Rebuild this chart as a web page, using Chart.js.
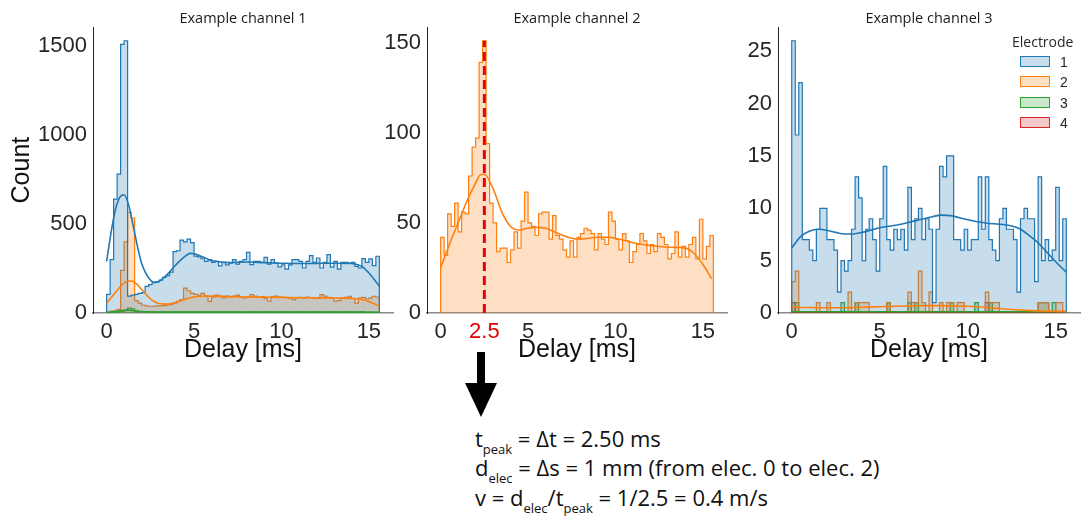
<!DOCTYPE html>
<html>
<head>
<meta charset="utf-8">
<script src="https://cdn.jsdelivr.net/npm/chart.js@4.4.1/dist/chart.umd.min.js"></script>
<style>
  body { margin: 0; background: #fff; }
  #fig { position: relative; width: 1083px; height: 516px; overflow: hidden; background: #fff; }
  #fig canvas { position: absolute; top: 0; }
  .leg { position: absolute; font-family: "Open Sans", sans-serif; color: #262626; white-space: nowrap; }
  .legbox { position: absolute; left: 1020px; width: 28px; height: 9px; border: 1.5px solid; }
  .leglab { position: absolute; left: 1060px; font-family: "Liberation Sans", Arial, sans-serif; font-size: 14px; line-height: 14px; color: #262626; }
  .eq { position: absolute; left: 475px; font-family: "Open Sans", sans-serif; font-size: 22px; line-height: 22px; color: #111; white-space: nowrap; }
  .eq sub { font-size: 13px; vertical-align: -7px; line-height: 0; }
</style>
</head>
<body>
<div id="fig">
  <canvas id="ch1" width="400" height="370" style="left:0px"></canvas>
  <canvas id="ch2" width="370" height="370" style="left:360px"></canvas>
  <canvas id="ch3" width="363" height="370" style="left:720px"></canvas>

  <!-- legend of channel 3 -->
  <div class="leg" style="left:1012px; top:33px; font-size:14px; line-height:18px;">Electrode</div>
  <div class="legbox" style="top:56px; border-color:#1f77b4; background:rgba(31,119,180,0.25)"></div>
  <div class="legbox" style="top:76px; border-color:#ff7f0e; background:rgba(255,127,14,0.25)"></div>
  <div class="legbox" style="top:97px; border-color:#2ca02c; background:rgba(44,160,44,0.25)"></div>
  <div class="legbox" style="top:117px; border-color:#d62728; background:rgba(214,39,40,0.25)"></div>
  <div class="leglab" style="top:55px">1</div>
  <div class="leglab" style="top:75px">2</div>
  <div class="leglab" style="top:96px">3</div>
  <div class="leglab" style="top:116px">4</div>

  <!-- arrow -->
  <svg style="position:absolute; left:465px; top:350px" width="32" height="70">
    <rect x="12" y="2" width="8" height="34" fill="#000"></rect>
    <polygon points="0,33 32,33 16,67" fill="#000"></polygon>
  </svg>

  <div class="eq" style="top:427px">t<sub>peak</sub> = Δt = 2.50 ms</div>
  <div class="eq" style="top:456px">d<sub>elec</sub> = Δs = 1 mm (from elec. 0 to elec. 2)</div>
  <div class="eq" style="top:486px">v = d<sub>elec</sub>/t<sub>peak</sub> = 1/2.5 = 0.4 m/s</div>
</div>

<script>
// bins: 78 bins of 0.2 ms from 0 to 15.6 ms
const binWidth = 0.2;
const nBins = 78;

// channel 1 counts per bin
const ch1Elec1 = [105, 300, 640, 780, 1510, 1530, 95, 100, 105, 110, 115, 150, 160, 170, 175, 185, 200, 210, 230, 345,
  350, 410, 400, 415, 395, 320, 315, 305, 290, 300, 285, 290, 265, 285, 270, 280, 300, 275, 290, 300,
  341, 272, 290, 290, 285, 313, 275, 300, 281, 259, 270, 247, 270, 300, 300, 290, 253, 290, 322, 285,
  309, 253, 285, 328, 258, 290, 247, 285, 285, 280, 285, 262, 253, 306, 285, 304, 266, 319];
const ch1Elec2 = [5, 10, 12, 20, 240, 400, 566, 534, 70, 55, 45, 40, 38, 38, 40, 40, 42, 45, 48, 55,
  65, 75, 140, 125, 110, 105, 100, 110, 95, 65, 90, 100, 95, 85, 95, 90, 95, 100, 88, 85,
  90, 103, 95, 88, 92, 80, 66, 92, 95, 90, 88, 86, 84, 75, 86, 88, 85, 90, 86, 84,
  82, 103, 95, 88, 85, 66, 70, 84, 88, 94, 82, 56, 84, 88, 80, 85, 94, 90];
const ch1Elec3 = [2, 3, 4, 5, 8, 15, 28, 24, 10, 6, 5, 4, 6, 5, 4, 5, 6, 5, 4, 6,
  5, 7, 5, 6, 4, 5, 6, 5, 5, 4, 6, 5, 5, 6, 4, 5, 5, 6, 5, 4,
  5, 6, 5, 5, 4, 6, 5, 5, 4, 5, 6, 5, 4, 5, 5, 6, 4, 5, 5, 6,
  5, 4, 5, 6, 5, 5, 4, 5, 6, 5, 4, 5, 5, 6, 4, 5, 4, 3];

// channel 2 counts per bin
const ch2Elec2 = [42, 32, 55, 48, 61, 45, 56, 55, 76, 92, 97, 139, 151, 94, 61, 50, 34, 36, 36, 28,
  35, 45, 36, 51, 67, 50, 48, 43, 55, 56, 56, 41, 54, 43, 41, 35, 31, 40, 31, 42,
  44, 47, 46, 44, 35, 44, 41, 38, 56, 51, 41, 35, 44, 40, 28, 34, 38, 44, 40, 33,
  38, 34, 44, 42, 38, 30, 33, 45, 31, 37, 31, 38, 42, 30, 52, 30, 37, 43];

// channel 3 counts per bin
const ch3Elec1 = [26, 17, 22, 7, 7, 6, 5, 8, 10, 10, 7, 7, 6, 2, 5, 4, 5, 8, 13, 11,
  5, 8, 9, 7, 4, 9, 14, 7, 6, 8, 7, 8, 6, 12, 7, 9, 10, 7, 9, 8,
  1, 8, 14, 13, 15, 15, 7, 7, 6, 8, 6, 7, 7, 13, 8, 13, 7, 6, 5, 9,
  10, 8, 8, 7, 2, 9, 10, 9, 9, 3, 13, 5, 7, 5, 6, 12, 5, 9];
const ch3Elec2 = [3, 4, 0, 0, 0, 0, 0, 1, 0, 0, 1, 0, 0, 0, 0, 0, 2, 0, 1, 1,
  1, 1, 0, 0, 0, 0, 0, 1, 0, 0, 0, 0, 0, 2, 1, 1, 4, 1, 0, 2,
  0, 0, 1, 0, 1, 1, 0, 1, 1, 0, 0, 0, 0, 0, 0, 2, 1, 1, 1, 0,
  0, 0, 0, 0, 0, 0, 0, 0, 0, 0, 1, 1, 1, 0, 0, 1, 1, 0];
const ch3Elec3 = [0, 1, 0, 0, 0, 0, 0, 0, 0, 0, 0, 0, 0, 0, 1, 0, 0, 0, 1, 0,
  0, 0, 0, 0, 0, 0, 0, 1, 0, 0, 0, 0, 0, 1, 0, 1, 0, 0, 0, 0,
  0, 0, 0, 0, 0, 1, 0, 0, 0, 0, 0, 0, 1, 0, 0, 0, 1, 0, 0, 0,
  0, 0, 0, 0, 0, 0, 0, 0, 0, 0, 1, 1, 1, 0, 1, 0, 0, 0];
const ch3Elec4 = [1, 0, 0, 0, 0, 0, 0, 0, 0, 0, 0, 0, 0, 0, 0, 0, 0, 0, 0, 0,
  0, 0, 0, 0, 0, 0, 0, 0, 0, 0, 0, 0, 0, 0, 0, 0, 0, 0, 0, 0,
  0, 0, 0, 0, 0, 0, 0, 0, 0, 0, 0, 0, 0, 0, 0, 1, 0, 0, 0, 0,
  0, 0, 0, 0, 0, 0, 0, 0, 0, 0, 0, 0, 0, 0, 0, 0, 0, 0];

// KDE curves
const ch1KdeX = [0, 0.25, 0.5, 0.75, 1.0, 1.25, 1.5, 1.75, 2.0, 2.5, 2.75, 3.0, 3.5, 4.0, 4.5, 4.8, 5.0, 5.5, 6, 7, 8, 9, 10, 11, 12, 13, 14, 14.6, 15.0, 15.3, 15.6];
const ch1Kde1 = [290, 450, 580, 650, 665, 610, 500, 380, 280, 185, 172, 178, 220, 275, 320, 335, 333, 315, 295, 283, 287, 283, 280, 278, 279, 280, 278, 262, 225, 190, 150];
const ch1Kde2 = [55, 85, 115, 145, 168, 180, 178, 160, 132, 80, 63, 53, 50, 62, 78, 86, 90, 94, 95, 92, 90, 89, 88, 86, 85, 84, 82, 76, 65, 52, 38];
const ch1Kde3 = [3, 5, 8, 12, 15, 16, 14, 11, 8, 6, 5, 5, 5, 5, 5, 5, 5, 5, 5, 5, 5, 5, 5, 5, 5, 5, 5, 5, 4, 4, 3];

const ch2KdeX = [0, 0.5, 1, 1.5, 2, 2.25, 2.5, 3, 3.5, 4, 4.5, 5, 5.5, 6, 6.5, 7, 7.5, 8, 8.5, 9, 9.5, 10, 11, 12, 13, 14, 14.5, 15, 15.5];
const ch2Kde2 = [25, 38, 50, 62, 72, 76.5, 77, 69, 56, 48, 46, 47, 47.5, 47, 45, 43, 41.5, 41, 41.5, 42, 42, 41.5, 39, 37.5, 36.5, 36, 33, 27, 19];

const ch3KdeX = [0, 0.5, 1, 1.5, 2, 2.5, 3, 3.5, 4, 5, 6, 7, 7.5, 8, 8.5, 9, 10, 11, 12, 12.5, 13, 13.5, 14, 14.5, 15, 15.6];
const ch3Kde1 = [6.2, 7.3, 7.8, 8.0, 7.9, 7.7, 7.55, 7.55, 7.7, 8.15, 8.4, 8.8, 9.0, 9.2, 9.35, 9.3, 8.9, 8.6, 8.45, 8.3, 8.0, 7.4, 6.7, 5.8, 4.9, 3.9];
const ch3Kde2 = [0.55, 0.53, 0.52, 0.5, 0.5, 0.5, 0.5, 0.52, 0.55, 0.6, 0.65, 0.68, 0.7, 0.7, 0.7, 0.68, 0.65, 0.55, 0.4, 0.33, 0.28, 0.24, 0.2, 0.18, 0.16, 0.15];
const ch3Kde3 = [0.12, 0.12, 0.12, 0.12, 0.12, 0.12, 0.12, 0.12, 0.12, 0.12, 0.12, 0.12, 0.12, 0.12, 0.12, 0.12, 0.12, 0.12, 0.12, 0.12, 0.12, 0.12, 0.12, 0.12, 0.12, 0.12];
const ch3Kde4 = [0.05, 0.05, 0.05, 0.05, 0.05, 0.05, 0.05, 0.05, 0.05, 0.05, 0.05, 0.05, 0.05, 0.05, 0.05, 0.05, 0.05, 0.05, 0.05, 0.05, 0.05, 0.05, 0.05, 0.05, 0.05, 0.05];

// ticks
const xTicks = [0, 5, 10, 15];
const ch2XTicks = [0, 2.5, 5, 10, 15];
const ch1YTicks = [0, 500, 1000, 1500];
const ch2YTicks = [0, 50, 100, 150];
const ch3YTicks = [0, 5, 10, 15, 20, 25];
const peakDelay = 2.5;

const COLORS = ["#1f77b4", "#ff7f0e", "#2ca02c", "#d62728"];
const FILLS = ["rgba(31,119,180,0.25)", "rgba(255,127,14,0.25)", "rgba(44,160,44,0.25)", "rgba(214,39,40,0.25)"];
const TEXT = "#262626";
const TICK_FONT = { family: "'Liberation Sans', Arial, sans-serif", size: 22 };
const LABEL_FONT = { family: "'Liberation Sans', Arial, sans-serif", size: 25 };

const binEdges = Array.from({ length: nBins + 1 }, (_, i) => +(i * binWidth).toFixed(2));
const dataMax = binEdges[nBins];
const xPad = dataMax * 0.05;

// step outline of a histogram: one point per bin edge, closed down to zero at both ends
function stepPoints(counts) {
  const pts = [{ x: binEdges[0], y: 0 }];
  counts.forEach((c, i) => pts.push({ x: binEdges[i], y: c }));
  pts.push({ x: binEdges[counts.length], y: counts[counts.length - 1] });
  pts.push({ x: binEdges[counts.length], y: 0 });
  return pts;
}

// electrode 1 is drawn last so its fill tints the other outlines
function histSet(counts, k) {
  return {
    data: stepPoints(counts),
    borderColor: COLORS[k],
    backgroundColor: FILLS[k],
    borderWidth: 1.2,
    fill: "origin",
    stepped: "before",
    pointRadius: 0,
    order: 5 + k,
  };
}

function kdeSet(xs, ys, k) {
  return {
    data: xs.map((x, i) => ({ x: x, y: ys[i] })),
    borderColor: COLORS[k],
    borderWidth: 1.6,
    fill: false,
    cubicInterpolationMode: "monotone",
    pointRadius: 0,
    order: 1,
  };
}

function makeChart(id, opts) {
  return new Chart(document.getElementById(id), {
    type: "line",
    data: { datasets: opts.datasets },
    options: {
      responsive: false,
      animation: false,
      devicePixelRatio: 1,
      layout: { padding: { left: 0, right: opts.padRight, top: 0, bottom: 0 } },
      plugins: {
        legend: { display: false },
        tooltip: { enabled: false },
        title: {
          display: true,
          text: opts.title,
          fullSize: false,
          color: "#1a1a1a",
          font: { family: "'Open Sans', sans-serif", size: 14.5, weight: "normal", lineHeight: 1.08 },
          padding: { top: 11.5, bottom: 0 },
        },
      },
      scales: {
        x: {
          type: "linear",
          min: -xPad,
          max: dataMax + xPad,
          afterBuildTicks: (s) => { s.ticks = opts.xTicks.map((v) => ({ value: v })); },
          afterFit: (s) => { s.height = 57; },
          grid: { drawOnChartArea: false, drawTicks: false },
          border: { display: true, color: "#8a8a8a", width: 1.5 },
          ticks: {
            font: TICK_FONT,
            padding: 6,
            maxRotation: 0,
            autoSkip: false,
            color: (c) => (c.tick && c.tick.value === peakDelay && opts.redTick ? "#e00000" : TEXT),
            callback: (v) => String(v),
          },
          title: { display: true, text: "Delay [ms]", color: "#111", font: LABEL_FONT, padding: { top: 5, bottom: 5 } },
        },
        y: {
          min: 0,
          max: opts.yMax,
          afterBuildTicks: (s) => { s.ticks = opts.yTicks.map((v) => ({ value: v })); },
          afterFit: (s) => { s.width = opts.yWidth; },
          grid: { drawOnChartArea: false, drawTicks: false },
          border: { display: true, color: "#222", width: 1 },
          ticks: { font: TICK_FONT, padding: 6, color: TEXT, callback: (v) => String(v) },
          title: { display: !!opts.yTitle, text: opts.yTitle || "", color: "#111", font: LABEL_FONT, padding: { top: 7, bottom: 7 } },
        },
      },
    },
  });
}

makeChart("ch1", {
  title: "Example channel 1",
  yTitle: "Count",
  yWidth: 93,
  padRight: 7,
  yMax: Math.max(...ch1Elec1) * 1.05,
  xTicks: xTicks,
  yTicks: ch1YTicks,
  datasets: [
    histSet(ch1Elec1, 0), histSet(ch1Elec2, 1), histSet(ch1Elec3, 2),
    kdeSet(ch1KdeX, ch1Kde1, 0), kdeSet(ch1KdeX, ch1Kde2, 1), kdeSet(ch1KdeX, ch1Kde3, 2),
  ],
});

makeChart("ch2", {
  title: "Example channel 2",
  yWidth: 67,
  padRight: 3,
  yMax: Math.max(...ch2Elec2) * 1.05,
  xTicks: ch2XTicks,
  yTicks: ch2YTicks,
  redTick: true,
  datasets: [
    histSet(ch2Elec2, 1),
    kdeSet(ch2KdeX, ch2Kde2, 1),
    {
      // peak delay marker
      data: [{ x: peakDelay, y: 0 }, { x: peakDelay, y: Math.max(...ch2Elec2) }],
      borderColor: "#e8000b",
      borderWidth: 3,
      borderDash: [9, 5],
      fill: false,
      pointRadius: 0,
      order: 0,
    },
  ],
});

makeChart("ch3", {
  title: "Example channel 3",
  yWidth: 58,
  padRight: 3,
  yMax: Math.max(...ch3Elec1) * 1.05,
  xTicks: xTicks,
  yTicks: ch3YTicks,
  datasets: [
    histSet(ch3Elec1, 0), histSet(ch3Elec2, 1), histSet(ch3Elec3, 2), histSet(ch3Elec4, 3),
    kdeSet(ch3KdeX, ch3Kde1, 0), kdeSet(ch3KdeX, ch3Kde2, 1), kdeSet(ch3KdeX, ch3Kde3, 2), kdeSet(ch3KdeX, ch3Kde4, 3),
  ],
});
</script>
</body>
</html>
